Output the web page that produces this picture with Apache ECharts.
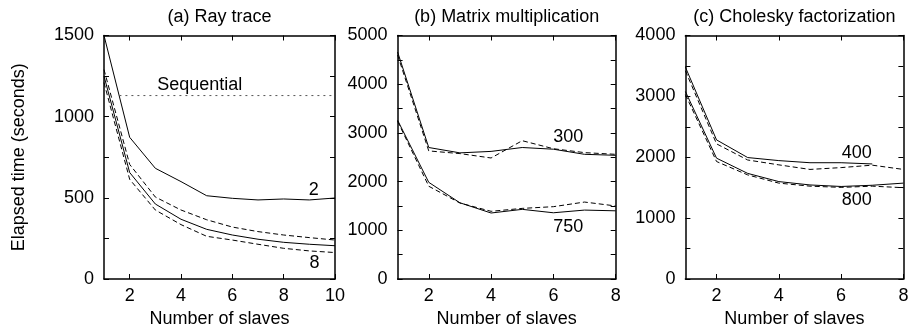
<!DOCTYPE html>
<html><head><meta charset="utf-8">
<script src="https://cdn.jsdelivr.net/npm/echarts@6/dist/echarts.min.js"></script>
<style>html,body{margin:0;padding:0;background:#fff}#c{width:911px;height:327px}</style>
</head><body><div id="c"></div>
<script>
// ---- data ----
const slavesA = [1, 2, 3, 4, 5, 6, 7, 8, 9, 10];
const slavesBC = [1, 2, 3, 4, 5, 6, 7, 8];
// (a) Ray trace
const ray2 = [1500, 873, 682, 600, 513, 497, 487, 493, 487, 499];
const ray4 = [1290, 706, 505, 425, 365, 320, 292, 271, 255, 240];
const ray6 = [1250, 656, 462, 368, 306, 271, 245, 226, 214, 205];
const ray8 = [1210, 614, 425, 335, 263, 240, 214, 189, 173, 163];
const sequentialTime = 1130;
const sequentialRange = [1.6, 10];
// (b) Matrix multiplication
const mat300a = [4660, 2700, 2590, 2620, 2700, 2665, 2560, 2540];
const mat300b = [4600, 2630, 2575, 2485, 2840, 2675, 2595, 2560];
const mat750a = [3260, 1985, 1565, 1355, 1430, 1360, 1415, 1400];
const mat750b = [3240, 1905, 1560, 1390, 1450, 1485, 1580, 1500];
// (c) Cholesky factorization
const chol400a = [3480, 2285, 1995, 1945, 1910, 1910, 1890, null];
const chol400b = [3420, 2220, 1955, 1875, 1800, 1830, 1870, 1800];
const chol800a = [3080, 1985, 1735, 1600, 1545, 1520, 1540, 1575];
const chol800b = [3030, 1930, 1710, 1575, 1525, 1505, 1525, 1500];
// ticks / texts
const xTicksA = [2, 4, 6, 8, 10];
const xTicksBC = [2, 4, 6, 8];
const panelTitles = ['(a) Ray trace', '(b) Matrix multiplication', '(c) Cholesky factorization'];
const yMax = [1500, 5000, 4000];
const yStep = [500, 1000, 1000];
const xMax = [10, 8, 8];

const FONT = '"Liberation Sans", Arial, Helvetica, sans-serif';
const FS = 18;
const grids = [
  {left: 104, top: 35.5, width: 231, height: 243.5},
  {left: 397.6, top: 35.5, width: 218.1, height: 243.5},
  {left: 685.4, top: 35.5, width: 218, height: 243.5}
];

function pts(xs, ys) { return xs.map((x, i) => [x, ys[i]]); }

const xAxis = [], yAxis = [];
grids.forEach((g, i) => {
  const ticks = i === 0 ? xTicksA : xTicksBC;
  const common = {
    type: 'value', gridIndex: i, min: 1, max: xMax[i],
    axisLine: {show: true, onZero: false, lineStyle: {color: '#000', width: 1.5}},
    axisTick: {show: true, inside: true, length: 5, customValues: ticks, lineStyle: {color: '#000', width: 1}},
    splitLine: {show: false}
  };
  xAxis.push(Object.assign({}, common, {
    position: 'bottom',
    name: 'Number of slaves', nameLocation: 'middle', nameGap: 25,
    nameTextStyle: {fontSize: FS, color: '#000', fontFamily: FONT},
    axisLabel: {show: true, customValues: ticks, fontSize: FS, color: '#000', fontFamily: FONT, margin: 8,
      formatter: v => String(v)}
  }));
  xAxis.push(Object.assign({}, common, {position: 'top', axisLabel: {show: false}}));
  const ycommon = {
    type: 'value', gridIndex: i, min: 0, max: yMax[i], interval: yStep[i],
    axisLine: {show: true, lineStyle: {color: '#000', width: 1.5}},
    axisTick: {show: true, inside: true, length: 5, lineStyle: {color: '#000', width: 1}},
    minorTick: {show: true, splitNumber: 2, length: 5, lineStyle: {color: '#000', width: 1}},
    splitLine: {show: false}, minorSplitLine: {show: false}
  };
  const yl = Object.assign({}, ycommon, {
    position: 'left',
    axisLabel: {show: true, fontSize: FS, color: '#000', fontFamily: FONT, margin: 10,
      formatter: v => String(v)}
  });
  if (i === 0) {
    yl.name = 'Elapsed time (seconds)';
    yl.nameLocation = 'middle';
    yl.nameGap = 76;
    yl.nameTextStyle = {fontSize: FS, color: '#000', fontFamily: FONT};
  }
  yAxis.push(yl);
  yAxis.push(Object.assign({}, ycommon, {position: 'right', axisLabel: {show: false}}));
});

const solid = {color: '#000', width: 1, type: 'solid'};
const dashed = {color: '#000', width: 1, type: [5, 3]};
function line(name, gi, xs, ys, style, mark) {
  const s = {
    name, type: 'line', xAxisIndex: gi * 2, yAxisIndex: gi * 2,
    data: pts(xs, ys), showSymbol: false, symbol: 'none', lineStyle: style,
    connectNulls: false, silent: true, animation: false
  };
  if (mark) {
    s.markPoint = {
      symbol: 'circle', symbolSize: 0, animation: false,
      label: {show: true, position: 'inside', color: '#000', fontSize: FS, fontFamily: FONT, formatter: mark.text},
      data: [{coord: mark.coord, value: mark.text}]
    };
  }
  return s;
}

const series = [
  line('2', 0, slavesA, ray2, solid, {text: '2', coord: [9.17, 548]}),
  line('4', 0, slavesA, ray4, dashed),
  line('6', 0, slavesA, ray6, solid),
  line('8', 0, slavesA, ray8, dashed, {text: '8', coord: [9.2, 97]}),
  {
    name: 'Sequential', type: 'line', xAxisIndex: 0, yAxisIndex: 0,
    data: [[sequentialRange[0], sequentialTime], [sequentialRange[1], sequentialTime]],
    symbol: 'none', lineStyle: {color: '#555', width: 1, type: [2, 4]}, animation: false,
    markPoint: {
      symbol: 'circle', symbolSize: 0, animation: false,
      label: {show: true, position: 'inside', color: '#000', fontSize: FS, fontFamily: FONT, formatter: 'Sequential'},
      data: [{coord: [4.73, 1195], value: 'Sequential'}]
    }
  },
  line('300', 1, slavesBC, mat300a, solid, {text: '300', coord: [6.48, 2909]}),
  line('300 (2)', 1, slavesBC, mat300b, dashed),
  line('750', 1, slavesBC, mat750a, solid, {text: '750', coord: [6.48, 1074]}),
  line('750 (2)', 1, slavesBC, mat750b, dashed),
  line('400', 2, slavesBC, chol400a, solid, {text: '400', coord: [6.5, 2075]}),
  line('400 (2)', 2, slavesBC, chol400b, dashed),
  line('800', 2, slavesBC, chol800a, solid, {text: '800', coord: [6.5, 1298]}),
  line('800 (2)', 2, slavesBC, chol800b, dashed)
];

const title = panelTitles.map((t, i) => ({
  text: t, left: grids[i].left + grids[i].width / 2, top: 8, textAlign: 'center', padding: 0,
  textStyle: {fontSize: FS, fontWeight: 'normal', color: '#000', fontFamily: FONT}
}));

const chart = echarts.init(document.getElementById('c'), null, {renderer: 'canvas'});
chart.setOption({
  backgroundColor: '#fff',
  animation: false,
  title,
  grid: grids.map(g => Object.assign({outerBoundsMode: 'none', containLabel: false}, g)),
  xAxis, yAxis, series
});
</script></body></html>
